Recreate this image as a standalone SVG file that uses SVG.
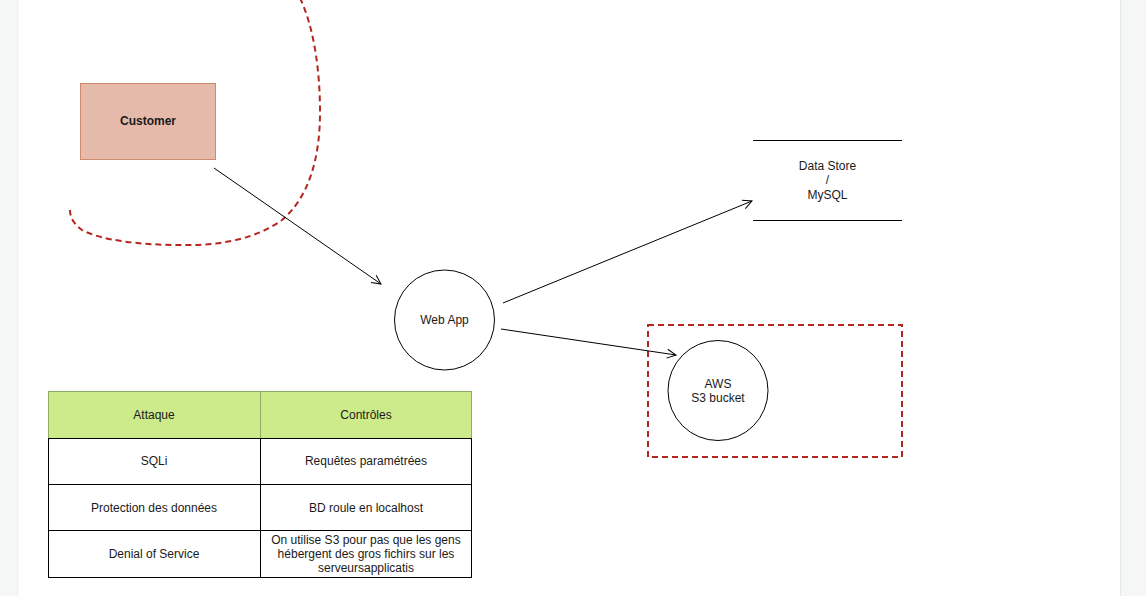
<svg xmlns="http://www.w3.org/2000/svg" width="1146" height="596" viewBox="0 0 1146 596">
<defs>
<style>
text{font-family:"Liberation Sans",Arial,sans-serif;font-size:12px;fill:#1a1a1a;text-anchor:middle;dominant-baseline:central}
.b{font-weight:bold}
.edge{stroke:#000;stroke-width:1;fill:none}
.cell{fill:#fff;stroke:#000;stroke-width:1}
.hdr{fill:#cdeb8b;stroke:#8fae67;stroke-width:1}
.bound{fill:none;stroke:#b3261e;stroke-width:2;stroke-dasharray:6 4}
</style>
<marker id="arr" markerWidth="12" markerHeight="12" refX="10" refY="6" orient="auto" markerUnits="userSpaceOnUse">
<path d="M1,1.5 L10,6 L1,10.5" fill="none" stroke="#000" stroke-width="1"/>
</marker>
</defs>
<rect x="0" y="0" width="1146" height="596" fill="#f5f6f6"/>
<rect x="19" y="0" width="1101" height="596" fill="#fff"/>
<line x1="1120.5" y1="0" x2="1120.5" y2="596" stroke="#e6e8e8" stroke-width="1"/>

<g id="trust-boundary-1">
<path class="bound" d="M300,-2 C314,28 320,70 320,112 C320,160 308,198 282,220 C255,240 215,246 180,245 C140,245 100,240 82,230 C74,224 70,218 70,210"/>
</g>
<g id="trust-boundary-2">
<rect class="bound" x="648" y="325" width="254" height="132"/>
</g>

<g id="connectors">
<line class="edge" x1="214" y1="168" x2="381" y2="284" marker-end="url(#arr)"/>
<line class="edge" x1="503" y1="303" x2="752" y2="201" marker-end="url(#arr)"/>
<line class="edge" x1="501" y1="329" x2="676" y2="355" marker-end="url(#arr)"/>
</g>

<g id="customer">
<rect x="80.5" y="83.5" width="135" height="76" fill="#e6baab" stroke="#d08a70" stroke-width="1"/>
<text class="b" x="148" y="121">Customer</text>
</g>

<g id="web-app">
<circle cx="444.5" cy="320" r="50" fill="#fff" stroke="#000" stroke-width="1"/>
<text x="444.5" y="320">Web App</text>
</g>

<g id="data-store">
<line x1="753" y1="140.5" x2="902" y2="140.5" stroke="#000" stroke-width="1"/>
<line x1="753" y1="220.5" x2="902" y2="220.5" stroke="#000" stroke-width="1"/>
<text x="827.5" y="165.5">Data Store</text>
<text x="827.5" y="180">/</text>
<text x="827.5" y="194.5">MySQL</text>
</g>

<g id="aws-s3">
<circle cx="718" cy="390.5" r="50" fill="#fff" stroke="#000" stroke-width="1"/>
<text x="718" y="383.5">AWS</text>
<text x="718" y="398">S3 bucket</text>
</g>

<g id="table">
<rect class="hdr" x="48.5" y="391.5" width="212" height="47"/>
<rect class="hdr" x="260.5" y="391.5" width="211" height="47" stroke="#76945a"/>
<rect class="cell" x="48.5" y="438.5" width="212" height="46"/>
<rect class="cell" x="260.5" y="438.5" width="211" height="46"/>
<rect class="cell" x="48.5" y="484.5" width="212" height="46"/>
<rect class="cell" x="260.5" y="484.5" width="211" height="46"/>
<rect class="cell" x="48.5" y="530.5" width="212" height="47"/>
<rect class="cell" x="260.5" y="530.5" width="211" height="47"/>
<text x="154" y="414.5">Attaque</text>
<text x="366" y="414.5">Contrôles</text>
<text x="154" y="461">SQLi</text>
<text x="366" y="461">Requêtes paramétrées</text>
<text x="154" y="507.5">Protection des données</text>
<text x="366" y="507.5">BD roule en localhost</text>
<text x="154" y="553.5">Denial of Service</text>
<text x="366" y="540">On utilise S3 pour pas que les gens</text>
<text x="366" y="554">hébergent des gros fichirs sur les</text>
<text x="366" y="568">serveursapplicatis</text>
</g>
</svg>
